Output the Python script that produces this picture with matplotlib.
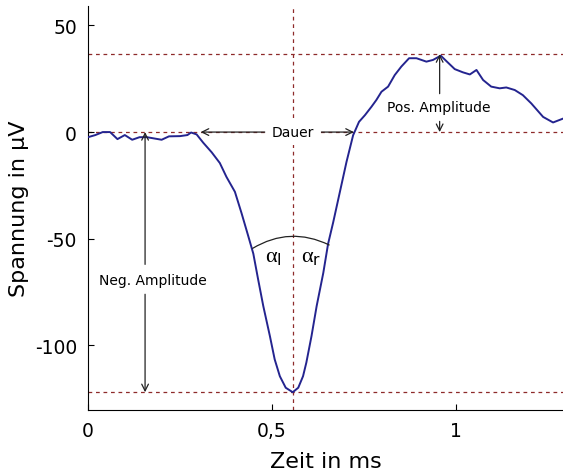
from matplotlib import pyplot as plt

zeit = [0.0, 0.02, 0.04, 0.06, 0.08, 0.10, 0.12, 0.14, 0.16, 0.18, 0.20, 0.22,
        0.25, 0.27, 0.28, 0.295, 0.313, 0.336, 0.358, 0.376, 0.399, 0.417,
        0.435, 0.449, 0.462, 0.476, 0.494, 0.507, 0.521, 0.537, 0.556, 0.571,
        0.584, 0.593, 0.607, 0.621, 0.639, 0.652, 0.666, 0.684, 0.702, 0.72,
        0.736, 0.752, 0.770, 0.783, 0.797, 0.815, 0.833, 0.851, 0.872, 0.892,
        0.919, 0.937, 0.958, 0.973, 0.996, 1.018, 1.037, 1.055, 1.073, 1.095,
        1.118, 1.136, 1.159, 1.181, 1.204, 1.236, 1.263, 1.29]
spannung = [-2.4, -1.4, 0, 0, -3.3, -1.4, -3.6, -2.4, -2.4, -3, -3.6, -2,
            -1.9, -1.4, -0.2, -1.1, -5, -9.5, -14.5, -21, -28, -38,
            -48.6, -57, -69, -81.5, -95.6, -106.5, -114.4, -119.8, -121.9, -119.8,
            -114.4, -108, -95.6, -81.5, -66, -52.4, -42.2, -28.1, -14, -1.5,
            4.8, 7.9, 11.9, 15, 18.9, 21.3, 26.7, 30.7, 34.6, 34.6,
            33, 33.8, 35.8, 33.3, 29.5, 28, 27, 29.1, 24.4, 21.3,
            20.5, 20.9, 19.7, 17.3, 13.4, 7.1, 4.5, 6.3]

t_min, v_min = 0.556, -121.9
t_max, v_max = 0.955, 36.5
t_start, t_end = 0.306, 0.722
t_neg = 0.155
winkel_l = (0.447, -54.5)
winkel_r = (0.655, -52.9)

xticks = [0, 0.5, 1]
xtick_labels = ['0', '0,5', '1']
yticks = [-100, -50, 0, 50]
ytick_labels = ['-100', '-50', '0', '50']

kurve = '#24248f'
hilfs = '#8e2a2a'
pfeil = '#222222'

plt.rcParams['mathtext.fontset'] = 'custom'
plt.rcParams['mathtext.sf'] = 'DejaVu Sans'

fig = plt.figure(figsize=(5.63, 4.77), dpi=100)
ax = fig.add_axes([0.1563, 0.1394, 0.8437, 0.8456])

# Hilfslinien
for y in [v_max, 0, v_min]:
    ax.axhline(y, color=hilfs, ls=(0, (3, 3)), lw=0.9, zorder=1)
ax.axvline(t_min, color=hilfs, ls=(0, (3, 3)), lw=0.9, zorder=1)

ax.plot(zeit, spannung, color=kurve, lw=1.4, zorder=3)

arr = dict(arrowstyle='->', color=pfeil, lw=0.9, shrinkA=0, shrinkB=0,
           mutation_scale=12)

# Dauer
ax.annotate('', xy=(t_start, 0), xytext=(0.48, 0), arrowprops=arr)
ax.annotate('', xy=(t_end, 0), xytext=(0.634, 0), arrowprops=arr)
ax.text(t_min, 0, 'Dauer', ha='center', va='center', fontsize=10,
        bbox=dict(fc='white', ec='none', pad=4), zorder=2)

# Neg. Amplitude
ax.annotate('', xy=(t_neg, 0), xytext=(t_neg, -62), arrowprops=arr)
ax.annotate('', xy=(t_neg, v_min), xytext=(t_neg, -76), arrowprops=arr)
ax.text(0.177, -69.5, 'Neg. Amplitude', ha='center', va='center', fontsize=10)

# Pos. Amplitude
ax.annotate('', xy=(t_max, v_max), xytext=(t_max, 18), arrowprops=arr)
ax.annotate('', xy=(t_max, 0), xytext=(t_max, 5), arrowprops=arr)
ax.text(0.953, 11.8, 'Pos. Amplitude', ha='center', va='center', fontsize=10)

# Winkel
ax.annotate('', xy=winkel_r, xytext=winkel_l,
            arrowprops=dict(arrowstyle='-', color=pfeil, lw=0.9, shrinkA=0,
                            shrinkB=0, connectionstyle='arc3,rad=-0.27'))
ax.text(0.503, -59, r'α$_{\mathsf{l}}$', ha='center', va='center', fontsize=16,
        family='Liberation Serif')
ax.text(0.607, -59, r'α$_{\mathsf{r}}$', ha='center', va='center', fontsize=16,
        family='Liberation Serif')

ax.set_xlim(0, 1.29)
ax.set_ylim(-130, 59)
ax.set_xticks(xticks, xtick_labels)
ax.set_yticks(yticks, ytick_labels)
ax.tick_params(direction='in', length=4, labelsize=13.5, pad=8)
ax.spines['top'].set_visible(False)
ax.spines['right'].set_visible(False)
ax.set_xlabel('Zeit in ms', fontsize=16, labelpad=8)
ax.set_ylabel('Spannung in µV', fontsize=16, labelpad=4)

fig.savefig('out.png', dpi=100)
